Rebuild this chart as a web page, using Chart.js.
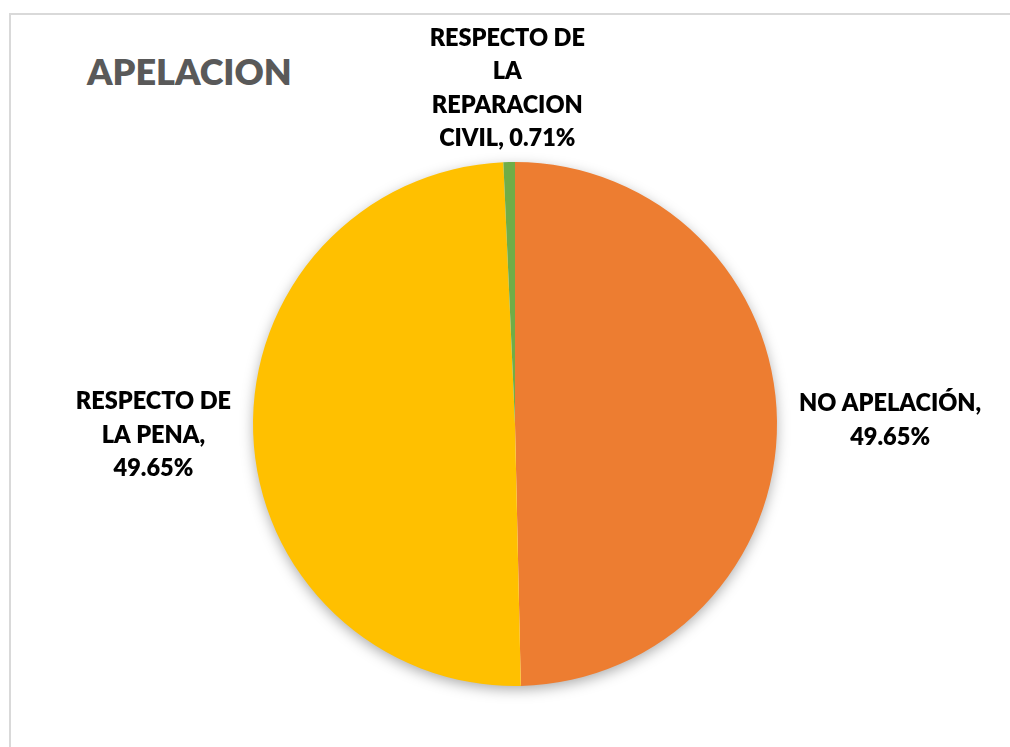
<!DOCTYPE html>
<html lang="es">
<head>
    <meta charset="UTF-8">
    <title>Apelacion</title>
    <script src="https://cdn.jsdelivr.net/npm/chart.js"></script>
    <style>
        body {
            margin: 0;
            background: #ffffff;
            font-family: Lato, "Open Sans", sans-serif;
            overflow: hidden;
        }
        .frame {
            position: absolute;
            left: 9px;
            top: 13px;
            width: 1100px;
            height: 900px;
            border: 2px solid #d9d9d9;
        }
        .title {
            position: absolute;
            left: 87px;
            top: 49px;
            font-size: 36px;
            font-weight: 800;
            color: #595959;
            margin: 0;
        }
        .chart-box {
            position: absolute;
            left: 0;
            top: 0;
            width: 1010px;
            height: 747px;
        }
    </style>
</head>
<body>
    <div class="frame"></div>
    <h1 class="title">APELACION</h1>
    <div class="chart-box">
        <canvas id="pieChart"></canvas>
    </div>

    <script>
        const categories = ['NO APELACIÓN', 'RESPECTO DE LA PENA', 'RESPECTO DE LA REPARACION CIVIL'];
        const percentages = [49.65, 49.65, 0.71];
        // how Excel wrapped each data label
        const labelLines = [
            ['NO APELACIÓN,', '49.65%'],
            ['RESPECTO DE', 'LA PENA,', '49.65%'],
            ['RESPECTO DE', 'LA', 'REPARACION', 'CIVIL, 0.71%']
        ];
        const sliceColors = ['#ED7D31', '#FFC000', '#70AD47'];

        // soft shadow under the whole pie
        const pieShadow = {
            id: 'pieShadow',
            beforeDatasetsDraw(chart) {
                const arc = chart.getDatasetMeta(0).data[0];
                if (!arc) return;
                const ctx = chart.ctx;
                ctx.save();
                ctx.shadowColor = 'rgba(0,0,0,0.35)';
                ctx.shadowBlur = 14;
                ctx.shadowOffsetY = 4;
                ctx.fillStyle = '#ffffff';
                ctx.beginPath();
                ctx.arc(arc.x, arc.y, arc.outerRadius - 1, 0, Math.PI * 2);
                ctx.fill();
                ctx.restore();
            }
        };

        // outside end labels, placed from each slice's middle angle
        const outsideLabels = {
            id: 'outsideLabels',
            afterDatasetsDraw(chart) {
                const ctx = chart.ctx;
                const lineH = 33.5;
                ctx.save();
                ctx.font = '800 23.5px Lato, "Open Sans", sans-serif';
                ctx.fillStyle = '#000000';
                ctx.textAlign = 'center';
                ctx.textBaseline = 'middle';
                chart.getDatasetMeta(0).data.forEach((arc, i) => {
                    const lines = labelLines[i];
                    const mid = (arc.startAngle + arc.endAngle) / 2;
                    const c = Math.cos(mid), s = Math.sin(mid);
                    const gap = 22 * Math.abs(c) + 6 * Math.abs(s);
                    const w = Math.max(...lines.map(t => ctx.measureText(t).width));
                    const h = lines.length * lineH;
                    const ax = arc.x + c * (arc.outerRadius + gap);
                    const ay = arc.y + s * (arc.outerRadius + gap);
                    const cx = ax + c * w / 2;
                    const cy = ay + s * h / 2;
                    lines.forEach((t, k) => {
                        ctx.fillText(t, cx, cy - h / 2 + lineH * (k + 0.5));
                    });
                });
                ctx.restore();
            }
        };

        new Chart(document.getElementById('pieChart'), {
            type: 'pie',
            data: {
                labels: categories,
                datasets: [{
                    data: percentages,
                    backgroundColor: sliceColors,
                    borderWidth: 0
                }]
            },
            options: {
                responsive: true,
                maintainAspectRatio: false,
                animation: false,
                layout: {
                    padding: { left: 253, right: 233, top: 162, bottom: 61 }
                },
                plugins: {
                    legend: { display: false },
                    tooltip: { enabled: false }
                }
            },
            plugins: [pieShadow, outsideLabels]
        });
    </script>
</body>
</html>
